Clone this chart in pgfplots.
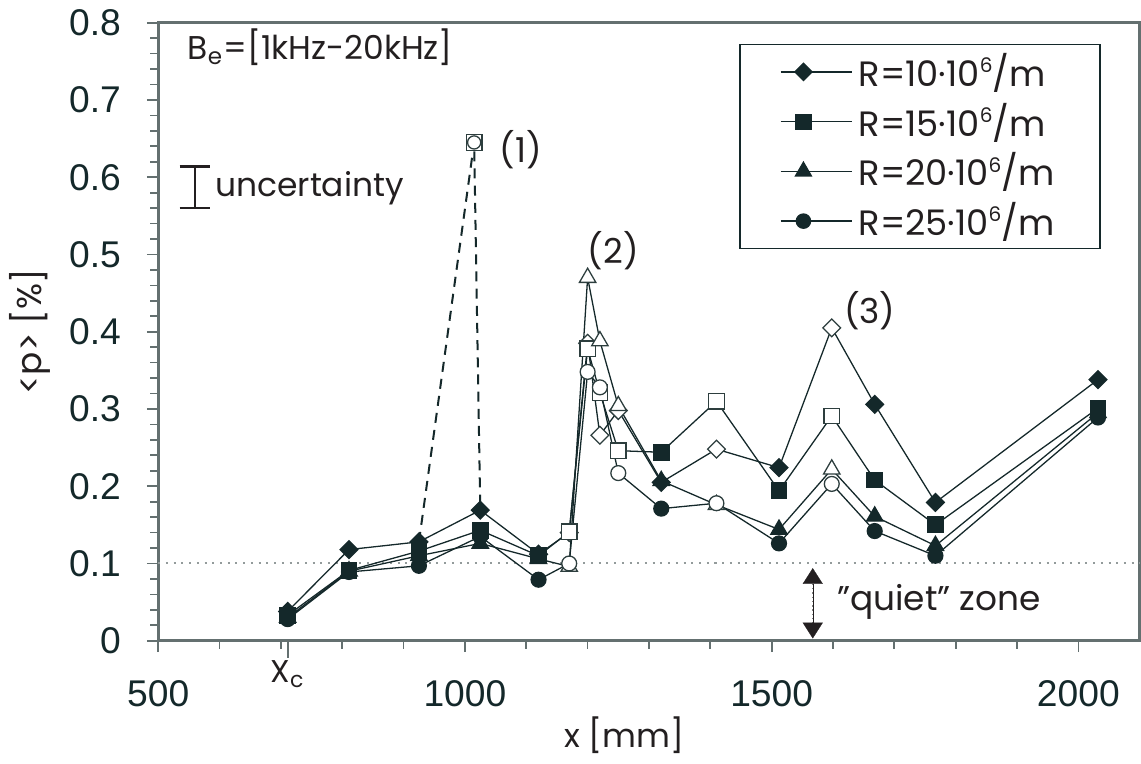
\documentclass[border=0pt]{standalone}
\usepackage{fontspec}
\setmainfont{Poppins}
\newfontfamily\ticks{Liberation Sans}
\usepackage{pgfplots}
\pgfplotsset{compat=1.18}
\usepackage{pgfplotstable}
\usetikzlibrary{arrows.meta}

\definecolor{dk}{RGB}{20,40,42}
\definecolor{ok}{RGB}{45,62,62}
\definecolor{axgray}{RGB}{100,112,112}
\definecolor{txt}{RGB}{35,31,32}

% square-ish diamond (pgf's own diamond is narrower)
\pgfdeclareplotmark{rdiam*}{%
  \pgfpathmoveto{\pgfqpoint{0pt}{\pgfplotmarksize}}%
  \pgfpathlineto{\pgfqpoint{\pgfplotmarksize}{0pt}}%
  \pgfpathlineto{\pgfqpoint{0pt}{-\pgfplotmarksize}}%
  \pgfpathlineto{\pgfqpoint{-\pgfplotmarksize}{0pt}}%
  \pgfpathclose\pgfusepathqfillstroke}

\newcommand{\sixth}{\smash{\fontsize{7}{8}\selectfont\raisebox{4.8pt}{6}}}

% x [mm], <p> [%], f = filled / o = open marker
\pgfplotstableread{
x    y     m
711  0.038 f
811  0.118 f
925  0.128 f
1025 0.169 f
1120 0.112 f
1170 0.140 o
1200 0.385 o
1220 0.266 o
1250 0.298 o
1320 0.205 f
1410 0.248 o
1512 0.224 f
1598 0.405 o
1668 0.306 f
1767 0.179 f
2032 0.338 f
}\rten
\pgfplotstableread{
x    y     m
711  0.033 f
811  0.091 f
925  0.116 f
1025 0.143 f
1120 0.110 f
1170 0.141 o
1200 0.378 o
1220 0.321 o
1250 0.246 o
1320 0.244 f
1410 0.310 o
1512 0.194 f
1598 0.291 o
1668 0.208 f
1767 0.150 f
2032 0.301 f
}\rfifteen
\pgfplotstableread{
x    y     m
711  0.030 f
811  0.090 f
925  0.110 f
1025 0.126 f
1120 0.106 f
1170 0.096 o
1200 0.470 o
1220 0.388 o
1250 0.304 o
1320 0.207 f
1410 0.176 o
1512 0.144 f
1598 0.222 o
1668 0.161 f
1767 0.123 f
2032 0.295 f
}\rtwenty
\pgfplotstableread{
x    y     m
711  0.028 f
811  0.089 f
925  0.097 f
1025 0.135 f
1120 0.079 f
1170 0.100 o
1200 0.348 o
1220 0.328 o
1250 0.217 o
1320 0.171 f
1410 0.178 o
1512 0.126 f
1598 0.203 o
1668 0.142 f
1767 0.110 f
2032 0.289 f
}\rtwentyfive

\pgfplotsset{
  series/.style={forget plot, dk, line width=0.45pt, mark=none},
  pts/.style n args={2}{forget plot, only marks, scatter, scatter src=explicit symbolic,
    line width=0.45pt, mark size=#2,
    scatter/classes={f={mark=#1, draw=dk, fill=dk}, o={mark=#1, draw=ok, fill=white}}},
}

\begin{document}
\begin{tikzpicture}
\begin{axis}[
  scale only axis, width=343pt, height=216pt,
  xmin=500, xmax=2100, ymin=0, ymax=0.8,
  xtick={500,1000,1500,2000},
  ytick={0,0.1,0.2,0.3,0.4,0.5,0.6,0.7,0.8},
  minor x tick num=4, minor y tick num=4,
  tick align=outside, tick pos=left,
  major tick length=4pt, minor tick length=2.8pt,
  every tick/.style={axgray, line width=0.6pt},
  axis line style={axgray, line width=0.9pt},
  ticklabel style={font=\ticks\fontsize{13}{15}\selectfont, text=dk},
  /pgf/number format/assume math mode=true,
  /pgf/number format/set thousands separator={},
  xticklabel style={yshift=-6.5pt},
  yticklabel style={xshift=-5.5pt},
  extra x ticks={711}, extra x tick labels={},
  extra x tick style={major tick length=6pt},
  xlabel={x [mm]}, ylabel={<p> [\%]},
  label style={font=\fontsize{12}{14}\selectfont, text=txt},
  xlabel style={at={(axis description cs:0.475,0)}, anchor=center, yshift=-33pt, font=\fontsize{11.5}{14}\selectfont},
  ylabel style={at={(axis description cs:0,0.5)}, anchor=center, yshift=44.8pt},
  clip=false,
  legend cell align=left,
  legend image code/.code={%
    \draw[mark repeat=2, mark phase=2] plot coordinates {(0pt,0pt) (7.9pt,0pt) (15.8pt,0pt)};
    \path (0pt,0pt) -- (25pt,0pt);},
  legend style={at={(0.592,0.966)}, anchor=north west, draw=dk, line width=0.6pt,
    font=\fontsize{12.3}{14}\selectfont, text=txt, inner xsep=14pt, inner ysep=1pt,
    row sep=0.3pt},
]
\draw[axgray!70, dotted, line width=0.7pt] (axis cs:500,0.1) -- (axis cs:2100,0.1);
\path (rel axis cs:1,0) ++(1.4pt,0);

\addlegendimage{dk, line width=0.45pt, mark=rdiam*, mark size=3pt, mark options={fill=dk}}
\addlegendentry{R=10·10\sixth/m}
\addlegendimage{dk, line width=0.45pt, mark=square*, mark size=2.6pt, mark options={fill=dk}}
\addlegendentry{R=15·10\sixth/m}
\addlegendimage{dk, line width=0.45pt, mark=triangle*, mark size=3.2pt, mark options={fill=dk}}
\addlegendentry{R=20·10\sixth/m}
\addlegendimage{dk, line width=0.45pt, mark=*, mark size=2.5pt, mark options={fill=dk}}
\addlegendentry{R=25·10\sixth/m}

% dashed excursion to peak (1)
\addplot[forget plot, dk, line width=0.7pt, dash pattern=on 3.5pt off 2.5pt] coordinates {(925,0.128) (1015,0.645) (1025,0.169)};

\addplot[series] table[x=x,y=y] {\rten};
\addplot[pts={rdiam*}{3.1pt}] table[x=x,y=y,meta=m] {\rten};
\addplot[series] table[x=x,y=y] {\rfifteen};
\addplot[pts={square*}{2.7pt}] table[x=x,y=y,meta=m] {\rfifteen};
\addplot[series] table[x=x,y=y] {\rtwenty};
\addplot[pts={triangle*}{3.3pt}] table[x=x,y=y,meta=m] {\rtwenty};
\addplot[series] table[x=x,y=y] {\rtwentyfive};
\addplot[pts={*}{2.6pt}] table[x=x,y=y,meta=m] {\rtwentyfive};

\addplot[forget plot, only marks, mark=square*, mark size=2.7pt, draw=ok, fill=white, line width=0.45pt] coordinates {(1015,0.645)};
\addplot[forget plot, only marks, mark=*, mark size=2.3pt, draw=ok, fill=white, line width=0.45pt] coordinates {(1015,0.645)};

% annotations
\node[anchor=west, text=txt, font=\fontsize{11.5}{14}\selectfont, inner sep=0pt] at (axis cs:547,0.768) {B\textsubscript{e}=[1kHz-20kHz]};
\draw[txt, line width=0.8pt] (axis cs:535,0.614) -- (axis cs:585,0.614)
  (axis cs:560,0.614) -- (axis cs:560,0.560)
  (axis cs:535,0.560) -- (axis cs:585,0.560);
\node[anchor=west, text=txt, font=\fontsize{11.5}{14}\selectfont, inner sep=0pt] at (axis cs:592,0.586) {uncertainty};
\node[text=txt, font=\fontsize{12}{14}\selectfont] at (axis cs:1091,0.636) {(1)};
\node[text=txt, font=\fontsize{12}{14}\selectfont] at (axis cs:1242,0.505) {(2)};
\node[text=txt, font=\fontsize{12}{14}\selectfont] at (axis cs:1660,0.427) {(3)};
\draw[gray, densely dotted, line width=0.5pt] (axis cs:1567,0.085) -- (axis cs:1567,0.015);
\draw[txt, line width=0.1pt, {Triangle[width=7pt,length=5.5pt]}-{Triangle[width=7pt,length=5.5pt]}] (axis cs:1567,0.094) -- (axis cs:1567,0.003);
\node[anchor=west, text=txt, font=\fontsize{12}{14}\selectfont, inner sep=0pt] at (axis cs:1606,0.05) {"quiet" zone};
\node[text=txt, font=\fontsize{11}{13}\selectfont] at (axis cs:711,0) [yshift=-11.6pt] {X\textsubscript{c}};
\end{axis}
\end{tikzpicture}
\end{document}
